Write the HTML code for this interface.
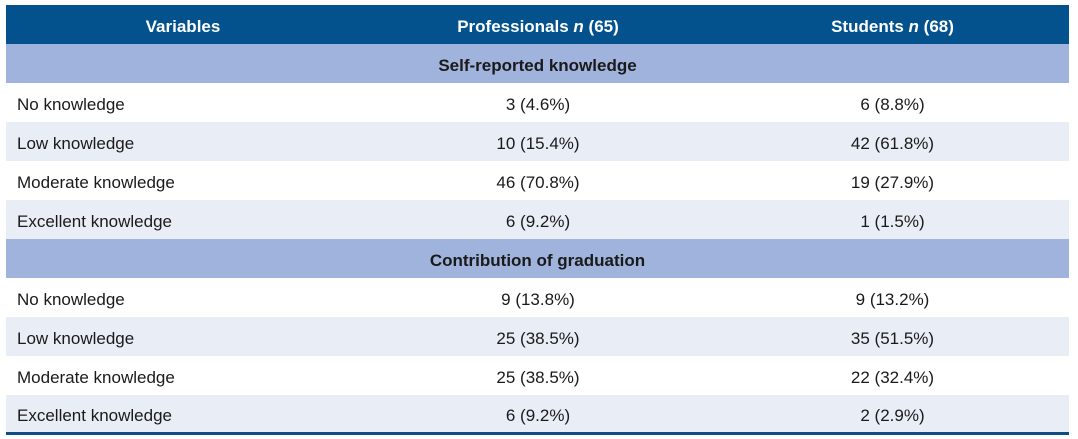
<!DOCTYPE html>
<html><head><style>
body{margin:0;background:#fff;font-family:"Liberation Sans",sans-serif;}
table{position:absolute;left:6px;top:5px;width:1063px;border-collapse:collapse;table-layout:fixed;}
td,th{height:35px;padding:4px 0 0 0;font-size:17px;color:#1a1a1a;}
th{background:#04528d;color:#fff;font-weight:bold;text-align:center;}
td{text-align:center;}
td.l{text-align:left;padding-left:11px;}
tr.s td{background:#9fb3dd;font-weight:bold;}
tr.a td{background:#e9edf6;}
tr.last td{border-bottom:3px solid #0d4f85;height:33px;}
</style></head><body>
<table>
<colgroup><col style="width:354px"><col style="width:356px"><col style="width:353px"></colgroup>
<tr><th>Variables</th><th>Professionals <i>n</i> (65)</th><th>Students <i>n</i> (68)</th></tr>
<tr class="s"><td colspan="3">Self-reported knowledge</td></tr>
<tr><td class="l">No knowledge</td><td>3 (4.6%)</td><td>6 (8.8%)</td></tr>
<tr class="a"><td class="l">Low knowledge</td><td>10 (15.4%)</td><td>42 (61.8%)</td></tr>
<tr><td class="l">Moderate knowledge</td><td>46 (70.8%)</td><td>19 (27.9%)</td></tr>
<tr class="a"><td class="l">Excellent knowledge</td><td>6 (9.2%)</td><td>1 (1.5%)</td></tr>
<tr class="s"><td colspan="3">Contribution of graduation</td></tr>
<tr><td class="l">No knowledge</td><td>9 (13.8%)</td><td>9 (13.2%)</td></tr>
<tr class="a"><td class="l">Low knowledge</td><td>25 (38.5%)</td><td>35 (51.5%)</td></tr>
<tr><td class="l">Moderate knowledge</td><td>25 (38.5%)</td><td>22 (32.4%)</td></tr>
<tr class="a last"><td class="l">Excellent knowledge</td><td>6 (9.2%)</td><td>2 (2.9%)</td></tr>
</table>
</body></html>
